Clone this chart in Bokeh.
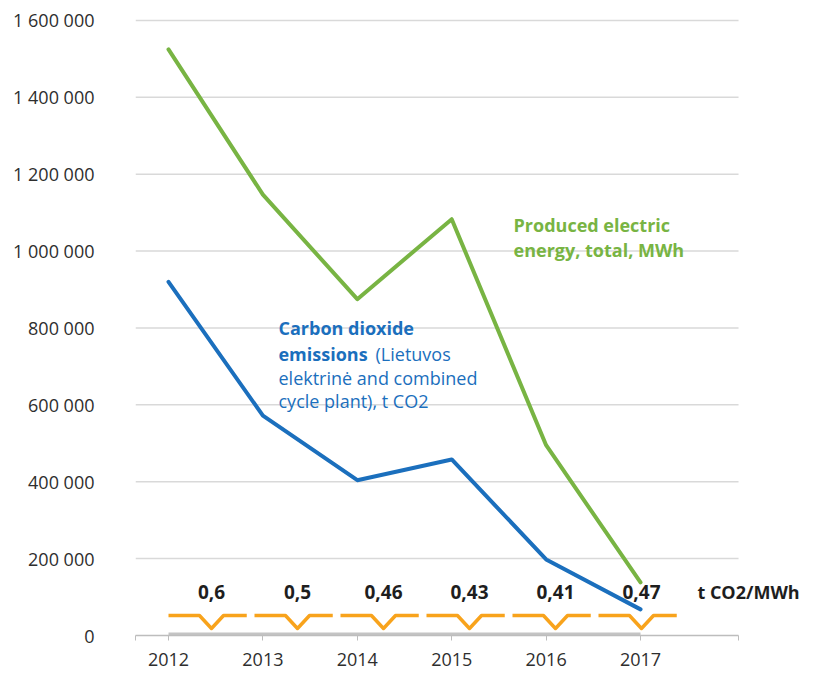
from bokeh.plotting import figure
from bokeh.models import Range1d, FixedTicker, Label
from bokeh.core.properties import value
from bokeh.embed import file_html
from bokeh.resources import INLINE

# ---- data ----
years = [2012, 2013, 2014, 2015, 2016, 2017]
energy_mwh = [1525000, 1147000, 875000, 1083000, 495000, 138000]
co2_t = [920000, 572000, 404000, 458000, 198000, 68000]
intensity = [0.6, 0.5, 0.46, 0.43, 0.41, 0.47]
intensity_labels = [str(v).replace(".", ",") for v in intensity]
y_ticks = [0, 200000, 400000, 600000, 800000, 1000000, 1200000, 1400000, 1600000]
y_tick_labels = [f"{t:,}".replace(",", " ") for t in y_ticks]

GREEN = "#78b443"
BLUE = "#1b6fbd"
ORANGE = "#f8a31c"
FONT = "Open Sans"

x_start, x_end = 2011.6504, 2018.864
x_plot_end = 2018.038          # where grid and axis stop
p = figure(width=816, height=677, output_backend="svg", toolbar_location=None,
           x_range=Range1d(x_start, x_end), y_range=Range1d(0, 1626000),
           min_border_left=135, min_border_right=0, min_border_top=10,
           min_border_bottom=42)
p.extra_x_ranges = {"intensity": Range1d(-0.8837, 7.035)}
p.outline_line_color = None
p.background_fill_color = "white"
p.border_fill_color = "white"

# grid (drawn only across the plotting area)
p.xgrid.visible = False
p.ygrid.visible = False
grid_vals = y_ticks[1:]
p.segment(x0=[x_start] * len(grid_vals), x1=[x_plot_end] * len(grid_vals),
          y0=grid_vals, y1=grid_vals, line_color="#d9d9d9", line_width=1.5)

# y axis
p.yaxis.ticker = FixedTicker(ticks=y_ticks)
p.yaxis.major_label_overrides = dict(zip(y_ticks, y_tick_labels))
p.yaxis.axis_line_color = None
p.yaxis.major_tick_line_color = None
p.yaxis.minor_tick_line_color = None
p.yaxis.major_label_standoff = 35
p.yaxis.major_label_text_font = FONT
p.yaxis.major_label_text_font_size = "18px"
p.yaxis.major_label_text_color = "#2e2e2e"

# x axis
p.xaxis.bounds = (x_start, x_plot_end)
p.xaxis.ticker = FixedTicker(ticks=years, minor_ticks=[x_start, x_plot_end])
p.xaxis.axis_line_color = "#bdbdbd"
p.xaxis.axis_line_width = 1.5
p.xaxis.major_tick_line_color = "#bdbdbd"
p.xaxis.minor_tick_line_color = "#bdbdbd"
p.xaxis.major_tick_in = 0
p.xaxis.major_tick_out = 5
p.xaxis.minor_tick_in = 0
p.xaxis.minor_tick_out = 5
p.xaxis.major_label_standoff = 12
p.xaxis.major_label_text_font = FONT
p.xaxis.major_label_text_font_size = "18px"
p.xaxis.major_label_text_color = "#2e2e2e"

# thick grey baseline between first and last year
p.line(x=[years[0], years[-1]], y=[0, 0], line_color="#c4c4c4", line_width=6)

# series
p.line(x=years, y=energy_mwh, line_color=GREEN, line_width=4, line_join="round", line_cap="round")
p.line(x=years, y=co2_t, line_color=BLUE, line_width=4, line_join="round", line_cap="round")

# intensity row: zigzag markers and values
idx = list(range(len(intensity)))
base_y, dip_y, label_y = 52000, 18200, 111900
xs = [[i - 0.5, i - 0.14, i, i + 0.14, i + 0.41] for i in idx]
ys = [[base_y, base_y, dip_y, base_y, base_y] for _ in idx]
p.multi_line(xs=xs, ys=ys, x_range_name="intensity", line_color=ORANGE, line_width=3.5,
             line_join="round")
p.text(x=idx, y=[label_y] * len(idx), text=intensity_labels, x_range_name="intensity",
       text_font=value(FONT), text_font_style="bold", text_font_size="19px",
       text_color="#1e1e1e", text_align="center", text_baseline="middle")
p.add_layout(Label(x=5.65, y=label_y, x_range_name="intensity", text="t CO2/MWh",
                   text_font=FONT, text_font_style="bold", text_font_size="18px",
                   text_color="#1e1e1e", text_baseline="middle"))

# series annotations
def lab(x, y, text, color, bold):
    p.add_layout(Label(x=x, y=y, text=text, text_font=FONT, text_font_size="18px",
                       text_font_style="bold" if bold else "normal", text_color=color,
                       text_baseline="alphabetic"))

lab(2015.655, 1066700, "Produced electric", GREEN, True)
lab(2015.655, 1004200, "energy, total, MWh", GREEN, True)
lab(2013.165, 798700, "Carbon dioxide", BLUE, True)
lab(2013.165, 733600, "emissions", BLUE, True)
lab(2014.193, 733600, "(Lietuvos", BLUE, False)
lab(2013.165, 671200, "elektrinė and combined", BLUE, False)
lab(2013.165, 608800, "cycle plant), t CO2", BLUE, False)

open("out.html", "w").write(file_html(p, INLINE))
